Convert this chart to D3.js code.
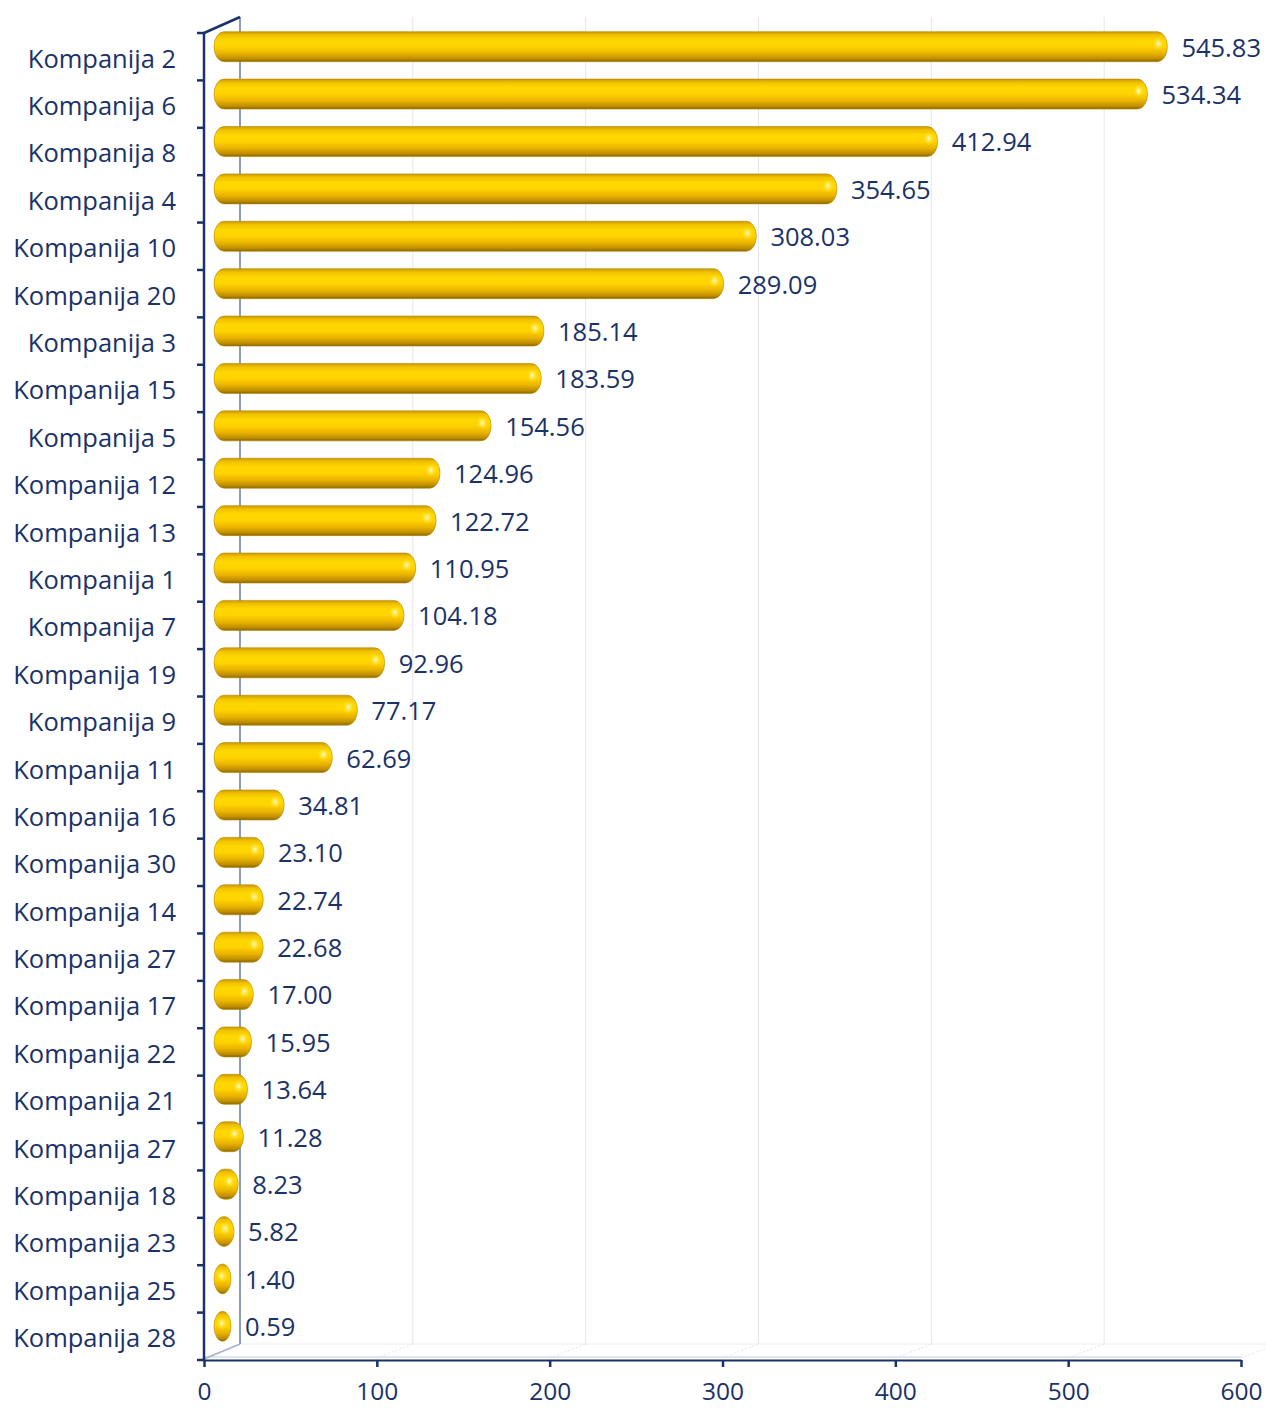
<!DOCTYPE html>
<html><head><meta charset="utf-8">
<script src="https://cdn.jsdelivr.net/npm/d3@7"></script>
<style>body{margin:0;background:#fff}svg{display:block}</style>
</head><body>
<script>
const categories = ["Kompanija 2","Kompanija 6","Kompanija 8","Kompanija 4","Kompanija 10","Kompanija 20","Kompanija 3","Kompanija 15","Kompanija 5","Kompanija 12","Kompanija 13","Kompanija 1","Kompanija 7","Kompanija 19","Kompanija 9","Kompanija 11","Kompanija 16","Kompanija 30","Kompanija 14","Kompanija 27","Kompanija 17","Kompanija 22","Kompanija 21","Kompanija 27","Kompanija 18","Kompanija 23","Kompanija 25","Kompanija 28"];
const values = [545.83,534.34,412.94,354.65,308.03,289.09,185.14,183.59,154.56,124.96,122.72,110.95,104.18,92.96,77.17,62.69,34.81,23.10,22.74,22.68,17.00,15.95,13.64,11.28,8.23,5.82,1.40,0.59];
const xTicks = [0,100,200,300,400,500,600];

const W = 1266, H = 1409;
const navy = "#1a3268";
const font = "'Open Sans', Lato, sans-serif";
const fsCat = 25.5, fsVal = 25.5, fsTick = 24.5;
const depthX = 36, depthY = -16;
const front = {left:204, right:1241, top:33, bottom:1360};

const svg = d3.select("body").append("svg").attr("width", W).attr("height", H);
const defs = svg.append("defs");
const g1 = defs.append("linearGradient").attr("id","cyl").attr("x1",0).attr("y1",0).attr("x2",0).attr("y2",1);
[[0,"#c99a00"],[0.12,"#f2c200"],[0.3,"#ffd800"],[0.5,"#ffd300"],[0.72,"#eab400"],[0.9,"#c08e00"],[1,"#8a6600"]].forEach(([o,c])=>g1.append("stop").attr("offset",o).attr("stop-color",c));
const g2 = defs.append("radialGradient").attr("id","hl");
g2.append("stop").attr("offset",0).attr("stop-color","#fffbd0").attr("stop-opacity",1);
g2.append("stop").attr("offset",1).attr("stop-color","#ffe000").attr("stop-opacity",0);

const x = d3.scaleLinear().domain([0,600]).range([front.left, front.right]);
const idx = d3.range(categories.length);
const y = d3.scaleBand().domain(idx).range([front.top, front.bottom]).paddingInner(0).paddingOuter(0);

// back wall gridlines
svg.append("g").selectAll("line").data(xTicks.slice(1)).join("line")
  .attr("x1", d=>x(d)+depthX).attr("x2", d=>x(d)+depthX)
  .attr("y1", front.top+depthY).attr("y2", front.bottom+depthY)
  .attr("stroke","#e6e6e6").attr("stroke-width",1);

// floor lines
svg.append("line").attr("x1",front.left+depthX).attr("x2",x(600)+depthX)
  .attr("y1",front.bottom+depthY).attr("y2",front.bottom+depthY).attr("stroke","#eeeeee");
svg.append("g").selectAll("line").data(xTicks).join("line")
  .attr("x1",d=>x(d)).attr("y1",front.bottom-2).attr("x2",d=>x(d)+depthX).attr("y2",front.bottom+depthY)
  .attr("stroke","#e4e4e4").attr("stroke-dasharray","2,2");
svg.append("line").attr("x1",front.left).attr("x2",front.right)
  .attr("y1",front.bottom-3).attr("y2",front.bottom-3).attr("stroke","#d8dce6").attr("stroke-width",1.5);

// left wall
svg.append("line").attr("x1",front.left+depthX).attr("x2",front.left+depthX)
  .attr("y1",front.top+depthY).attr("y2",front.bottom+depthY).attr("stroke","#8c9cbc").attr("stroke-width",2);
svg.append("line").attr("x1",front.left).attr("y1",front.top).attr("x2",front.left+depthX).attr("y2",front.top+depthY)
  .attr("stroke",navy).attr("stroke-width",2.5);
svg.append("line").attr("x1",front.left).attr("y1",front.bottom-1).attr("x2",front.left+depthX).attr("y2",front.bottom+depthY)
  .attr("stroke","#a8b4cc").attr("stroke-width",1.5);

// bars
const barH = 30, shiftY = -10;
const bx0 = front.left + 10;
const bars = svg.append("g").selectAll("g").data(idx).join("g");
const barEnd = i => Math.max(x(values[i]) + 20, bx0 + 17);
bars.append("rect")
  .attr("x", bx0).attr("y", i => y(i)+y.bandwidth()/2+shiftY-barH/2)
  .attr("width", i => barEnd(i)-bx0).attr("height", barH)
  .attr("rx", i => Math.min(10,(barEnd(i)-bx0)/2)).attr("ry", barH/2)
  .attr("fill","url(#cyl)").attr("stroke","#b58a00").attr("stroke-width",0.6);
bars.append("ellipse")
  .attr("cx", i => barEnd(i)-9).attr("cy", i => y(i)+y.bandwidth()/2+shiftY-3)
  .attr("rx",6).attr("ry",7).attr("fill","url(#hl)");

// value labels
svg.append("g").selectAll("text").data(idx).join("text")
  .attr("x", i => Math.max(barEnd(i)+14, front.left+depthX+3))
  .attr("y", i => y(i)+y.bandwidth()/2+shiftY+1)
  .attr("dy","0.35em").attr("fill",navy).attr("font-family",font).attr("font-size",fsVal)
  .text(i => d3.format(".2f")(values[i]));

// left axis
svg.append("line").attr("x1",front.left).attr("x2",front.left).attr("y1",front.top).attr("y2",front.bottom)
  .attr("stroke",navy).attr("stroke-width",2.5);
const yTicks = idx.map(i=>y(i)).concat([front.bottom]);
svg.append("g").selectAll("line").data(yTicks).join("line")
  .attr("x1",front.left-7).attr("x2",front.left).attr("y1",d=>d).attr("y2",d=>d)
  .attr("stroke",navy).attr("stroke-width",2.5);
svg.append("g").selectAll("text").data(idx).join("text")
  .attr("x",176).attr("y",i=>y(i)+y.bandwidth()/2+2).attr("dy","0.35em")
  .attr("text-anchor","end").attr("fill",navy).attr("font-family",font).attr("font-size",fsCat)
  .text(i=>categories[i]);

// bottom axis
const xAxis = d3.axisBottom(x).tickValues(xTicks).tickSize(7).tickSizeOuter(0).tickPadding(16);
const ax = svg.append("g").attr("transform",`translate(0,${front.bottom})`).call(xAxis);
ax.select(".domain").attr("stroke",navy).attr("stroke-width",2);
ax.selectAll(".tick line").attr("stroke",navy).attr("stroke-width",2.5);
ax.selectAll(".tick text").attr("fill",navy).attr("font-family",font).attr("font-size",fsTick);
</script>
</body></html>
